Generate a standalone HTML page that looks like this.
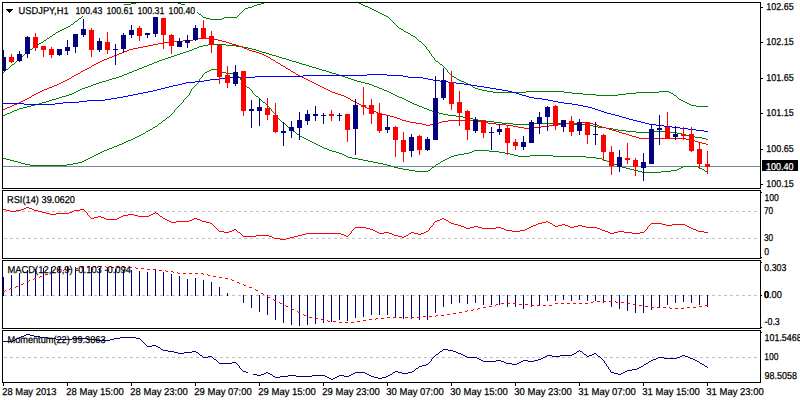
<!DOCTYPE html><html><head><meta charset="utf-8"><title>USDJPY,H1</title><style>html,body{margin:0;padding:0;background:#fff;width:800px;height:400px;overflow:hidden;font-family:"Liberation Sans",sans-serif}</style></head><body><svg width="800" height="400" viewBox="0 0 800 400" shape-rendering="crispEdges" style="position:absolute;left:0;top:0">
<rect x="0" y="0" width="800" height="400" fill="#fff"/>
<defs><clipPath id="cm"><rect x="3" y="3" width="757" height="185"/></clipPath></defs>
<g clip-path="url(#cm)">
<rect x="3" y="166" width="757" height="1" fill="#778899"/>
<path d="M268 0h1v1h-1zM266 1h2v1h-2zM136 2h42v1h-42zM264 2h2v1h-2zM131 3h5v1h-5zM178 3h3v1h-3zM261 3h3v1h-3zM124 4h7v1h-7zM181 4h4v1h-4zM257 4h4v1h-4zM118 5h6v1h-6zM185 5h2v1h-2zM254 5h3v1h-3zM113 6h5v1h-5zM187 6h2v1h-2zM252 6h2v1h-2zM108 7h5v1h-5zM189 7h2v1h-2zM248 7h4v1h-4zM102 8h6v1h-6zM191 8h2v1h-2zM245 8h3v1h-3zM98 9h4v1h-4zM193 9h1v1h-1zM244 9h1v1h-1zM95 10h3v1h-3zM194 10h1v1h-1zM243 10h1v1h-1zM93 11h2v1h-2zM195 11h2v1h-2zM242 11h1v1h-1zM90 12h3v1h-3zM197 12h1v1h-1zM241 12h1v1h-1zM87 13h3v1h-3zM198 13h1v1h-1zM240 13h1v1h-1zM85 14h2v1h-2zM199 14h2v1h-2zM239 14h1v1h-1zM83 15h2v1h-2zM201 15h1v1h-1zM238 15h1v1h-1zM82 16h1v1h-1zM202 16h1v1h-1zM237 16h1v1h-1zM81 17h1v1h-1zM203 17h3v1h-3zM224 17h13v1h-13zM79 18h2v1h-2zM206 18h4v1h-4zM222 18h2v1h-2zM78 19h1v1h-1zM210 19h12v1h-12zM77 20h1v1h-1zM75 21h2v1h-2zM74 22h1v1h-1zM73 23h1v1h-1zM71 24h2v1h-2zM70 25h1v1h-1zM68 26h2v1h-2zM66 27h2v1h-2zM64 28h2v1h-2zM62 29h2v1h-2zM60 30h2v1h-2zM58 31h2v1h-2zM56 32h2v1h-2zM55 33h1v1h-1zM53 34h2v1h-2zM52 35h1v1h-1zM50 36h2v1h-2zM49 37h1v1h-1zM47 38h2v1h-2zM46 39h1v1h-1zM44 40h2v1h-2zM43 41h1v1h-1zM41 42h2v1h-2zM39 43h2v1h-2zM38 44h1v1h-1zM36 45h2v1h-2zM35 46h1v1h-1zM33 47h2v1h-2zM32 48h1v1h-1zM30 49h2v1h-2zM29 50h1v1h-1zM28 51h1v1h-1zM27 52h1v1h-1zM25 53h2v1h-2zM24 54h1v1h-1zM23 55h1v1h-1zM22 56h1v1h-1zM21 57h1v1h-1zM19 58h2v1h-2zM18 59h1v1h-1zM17 60h1v1h-1zM16 61h1v1h-1zM15 62h1v1h-1zM14 63h1v1h-1zM12 64h2v1h-2zM11 65h1v1h-1zM10 66h1v1h-1zM9 67h1v1h-1zM8 68h1v1h-1zM6 69h2v1h-2zM5 70h1v1h-1zM4 71h1v1h-1zM3 72h1v1h-1z" fill="#008000"/>
<path d="M354 0h1v1h-1zM355 1h2v1h-2zM357 2h2v1h-2zM359 3h2v1h-2zM361 4h2v1h-2zM363 5h2v1h-2zM365 6h3v1h-3zM368 7h2v1h-2zM370 8h2v1h-2zM372 9h2v1h-2zM374 10h2v1h-2zM376 11h2v1h-2zM378 12h2v1h-2zM380 13h2v1h-2zM382 14h2v1h-2zM384 15h2v1h-2zM386 16h2v1h-2zM388 17h1v1h-1zM389 18h1v1h-1zM390 19h1v1h-1zM391 20h1v1h-1zM392 21h1v1h-1zM393 22h1v1h-1zM394 23h1v1h-1zM395 24h1v1h-1zM396 25h1v1h-1zM397 26h1v1h-1zM398 27h1v1h-1zM399 28h2v1h-2zM401 29h2v1h-2zM403 30h1v1h-1zM404 31h2v1h-2zM406 32h2v1h-2zM408 33h2v1h-2zM410 34h1v1h-1zM411 35h2v1h-2zM413 36h2v1h-2zM415 37h1v1h-1zM416 38h1v1h-1zM417 39h1v1h-1zM418 40h1v1h-1zM419 41h2v1h-2zM421 42h1v1h-1zM422 43h1v1h-1zM423 44h1v1h-1zM424 45h1v1h-1zM425 46h1v1h-1zM426 47h1v1h-1zM426 48h1v1h-1zM427 49h1v1h-1zM428 50h1v1h-1zM429 51h1v1h-1zM429 52h1v1h-1zM430 53h1v1h-1zM431 54h1v1h-1zM431 55h1v1h-1zM432 56h1v1h-1zM433 57h1v1h-1zM434 58h1v1h-1zM434 59h1v1h-1zM435 60h1v1h-1zM436 61h2v1h-2zM438 62h1v1h-1zM439 63h1v1h-1zM440 64h2v1h-2zM442 65h1v1h-1zM443 66h1v1h-1zM444 67h1v1h-1zM445 68h1v1h-1zM446 69h1v1h-1zM447 70h1v1h-1zM447 71h1v1h-1zM448 72h1v1h-1zM449 73h1v1h-1zM450 74h1v1h-1zM451 75h1v1h-1zM452 76h2v1h-2zM454 77h2v1h-2zM456 78h1v1h-1zM457 79h2v1h-2zM459 80h2v1h-2zM461 81h3v1h-3zM464 82h2v1h-2zM466 83h2v1h-2zM468 84h2v1h-2zM470 85h2v1h-2zM472 86h1v1h-1zM473 87h2v1h-2zM475 88h3v1h-3zM478 89h4v1h-4zM482 90h5v1h-5zM487 91h6v1h-6zM526 91h38v1h-38zM659 91h10v1h-10zM493 92h33v1h-33zM564 92h8v1h-8zM636 92h23v1h-23zM669 92h2v1h-2zM572 93h11v1h-11zM626 93h10v1h-10zM671 93h2v1h-2zM583 94h13v1h-13zM618 94h8v1h-8zM673 94h1v1h-1zM596 95h22v1h-22zM674 95h2v1h-2zM676 96h1v1h-1zM677 97h1v1h-1zM678 98h1v1h-1zM679 99h2v1h-2zM681 100h2v1h-2zM683 101h2v1h-2zM685 102h2v1h-2zM687 103h2v1h-2zM689 104h2v1h-2zM691 105h5v1h-5zM696 106h12v1h-12z" fill="#008000"/>
<path d="M208 44h18v1h-18zM203 45h5v1h-5zM226 45h10v1h-10zM199 46h4v1h-4zM236 46h7v1h-7zM197 47h2v1h-2zM243 47h5v1h-5zM194 48h3v1h-3zM248 48h4v1h-4zM192 49h2v1h-2zM252 49h4v1h-4zM189 50h3v1h-3zM256 50h3v1h-3zM186 51h3v1h-3zM259 51h3v1h-3zM183 52h3v1h-3zM262 52h4v1h-4zM180 53h3v1h-3zM266 53h3v1h-3zM177 54h3v1h-3zM269 54h3v1h-3zM174 55h3v1h-3zM272 55h4v1h-4zM171 56h3v1h-3zM276 56h3v1h-3zM168 57h3v1h-3zM279 57h3v1h-3zM165 58h3v1h-3zM282 58h4v1h-4zM162 59h3v1h-3zM286 59h3v1h-3zM159 60h3v1h-3zM289 60h3v1h-3zM157 61h2v1h-2zM292 61h4v1h-4zM154 62h3v1h-3zM296 62h3v1h-3zM152 63h2v1h-2zM299 63h3v1h-3zM149 64h3v1h-3zM302 64h4v1h-4zM147 65h2v1h-2zM306 65h3v1h-3zM144 66h3v1h-3zM309 66h3v1h-3zM142 67h2v1h-2zM312 67h4v1h-4zM139 68h3v1h-3zM316 68h3v1h-3zM137 69h2v1h-2zM319 69h3v1h-3zM134 70h3v1h-3zM322 70h4v1h-4zM132 71h2v1h-2zM326 71h3v1h-3zM129 72h3v1h-3zM329 72h3v1h-3zM127 73h2v1h-2zM332 73h4v1h-4zM124 74h3v1h-3zM336 74h3v1h-3zM122 75h2v1h-2zM339 75h3v1h-3zM119 76h3v1h-3zM342 76h3v1h-3zM116 77h3v1h-3zM345 77h3v1h-3zM112 78h4v1h-4zM348 78h3v1h-3zM109 79h3v1h-3zM351 79h3v1h-3zM106 80h3v1h-3zM354 80h3v1h-3zM102 81h4v1h-4zM357 81h4v1h-4zM99 82h3v1h-3zM361 82h4v1h-4zM96 83h3v1h-3zM365 83h4v1h-4zM93 84h3v1h-3zM369 84h3v1h-3zM91 85h2v1h-2zM372 85h2v1h-2zM88 86h3v1h-3zM374 86h3v1h-3zM85 87h3v1h-3zM377 87h2v1h-2zM82 88h3v1h-3zM379 88h3v1h-3zM80 89h2v1h-2zM382 89h2v1h-2zM78 90h2v1h-2zM384 90h3v1h-3zM76 91h2v1h-2zM387 91h2v1h-2zM74 92h2v1h-2zM389 92h2v1h-2zM72 93h2v1h-2zM391 93h2v1h-2zM69 94h3v1h-3zM393 94h2v1h-2zM66 95h3v1h-3zM395 95h2v1h-2zM62 96h4v1h-4zM397 96h2v1h-2zM59 97h3v1h-3zM399 97h3v1h-3zM56 98h3v1h-3zM402 98h2v1h-2zM52 99h4v1h-4zM404 99h2v1h-2zM49 100h3v1h-3zM406 100h2v1h-2zM46 101h3v1h-3zM408 101h2v1h-2zM42 102h4v1h-4zM410 102h2v1h-2zM39 103h3v1h-3zM412 103h2v1h-2zM35 104h4v1h-4zM414 104h3v1h-3zM31 105h4v1h-4zM417 105h2v1h-2zM27 106h4v1h-4zM419 106h3v1h-3zM23 107h4v1h-4zM422 107h2v1h-2zM19 108h4v1h-4zM424 108h3v1h-3zM17 109h2v1h-2zM427 109h2v1h-2zM14 110h3v1h-3zM429 110h3v1h-3zM12 111h2v1h-2zM432 111h4v1h-4zM10 112h2v1h-2zM436 112h3v1h-3zM7 113h3v1h-3zM439 113h4v1h-4zM5 114h2v1h-2zM443 114h5v1h-5zM3 115h2v1h-2zM448 115h8v1h-8zM456 116h7v1h-7zM463 117h5v1h-5zM468 118h5v1h-5zM473 119h5v1h-5zM478 120h8v1h-8zM486 121h8v1h-8zM494 122h8v1h-8zM502 123h11v1h-11zM530 123h41v1h-41zM513 124h17v1h-17zM571 124h15v1h-15zM586 125h7v1h-7zM593 126h5v1h-5zM598 127h8v1h-8zM606 128h7v1h-7zM613 129h5v1h-5zM618 130h8v1h-8zM626 131h10v1h-10zM654 131h15v1h-15zM636 132h18v1h-18zM669 132h8v1h-8zM677 133h5v1h-5zM682 134h4v1h-4zM686 135h3v1h-3zM689 136h6v1h-6zM695 137h7v1h-7zM702 138h4v1h-4zM706 139h2v1h-2z" fill="#008000"/>
<path d="M211 69h7v1h-7zM209 70h2v1h-2zM218 70h2v1h-2zM207 71h2v1h-2zM220 71h2v1h-2zM205 72h2v1h-2zM222 72h4v1h-4zM204 73h1v1h-1zM226 73h10v1h-10zM203 74h1v1h-1zM236 74h1v1h-1zM202 75h1v1h-1zM237 75h1v1h-1zM202 76h1v1h-1zM238 76h1v1h-1zM201 77h1v1h-1zM239 77h1v1h-1zM200 78h1v1h-1zM240 78h1v1h-1zM199 79h1v1h-1zM240 79h1v1h-1zM199 80h1v1h-1zM241 80h1v1h-1zM198 81h1v1h-1zM242 81h1v1h-1zM198 82h1v1h-1zM243 82h1v1h-1zM197 83h1v1h-1zM243 83h1v1h-1zM196 84h1v1h-1zM244 84h1v1h-1zM195 85h1v1h-1zM245 85h1v1h-1zM194 86h1v1h-1zM246 86h1v1h-1zM193 87h1v1h-1zM247 87h2v1h-2zM192 88h1v1h-1zM249 88h1v1h-1zM191 89h1v1h-1zM250 89h1v1h-1zM191 90h1v1h-1zM251 90h1v1h-1zM190 91h1v1h-1zM252 91h1v1h-1zM190 92h1v1h-1zM252 92h1v1h-1zM189 93h1v1h-1zM253 93h1v1h-1zM189 94h1v1h-1zM254 94h1v1h-1zM188 95h1v1h-1zM255 95h1v1h-1zM187 96h1v1h-1zM256 96h2v1h-2zM186 97h1v1h-1zM258 97h1v1h-1zM185 98h1v1h-1zM259 98h1v1h-1zM184 99h1v1h-1zM260 99h1v1h-1zM183 100h1v1h-1zM261 100h1v1h-1zM183 101h1v1h-1zM262 101h1v1h-1zM182 102h1v1h-1zM263 102h2v1h-2zM181 103h1v1h-1zM265 103h1v1h-1zM180 104h1v1h-1zM266 104h1v1h-1zM179 105h1v1h-1zM267 105h1v1h-1zM178 106h1v1h-1zM268 106h1v1h-1zM177 107h1v1h-1zM269 107h1v1h-1zM176 108h1v1h-1zM270 108h1v1h-1zM175 109h1v1h-1zM271 109h1v1h-1zM174 110h1v1h-1zM271 110h1v1h-1zM174 111h1v1h-1zM272 111h1v1h-1zM173 112h1v1h-1zM273 112h1v1h-1zM172 113h1v1h-1zM274 113h1v1h-1zM171 114h1v1h-1zM275 114h1v1h-1zM170 115h1v1h-1zM276 115h1v1h-1zM169 116h1v1h-1zM277 116h1v1h-1zM167 117h2v1h-2zM277 117h1v1h-1zM166 118h1v1h-1zM278 118h1v1h-1zM165 119h1v1h-1zM279 119h1v1h-1zM163 120h2v1h-2zM280 120h1v1h-1zM162 121h1v1h-1zM281 121h1v1h-1zM161 122h1v1h-1zM282 122h2v1h-2zM159 123h2v1h-2zM284 123h1v1h-1zM158 124h1v1h-1zM285 124h1v1h-1zM157 125h1v1h-1zM286 125h1v1h-1zM155 126h2v1h-2zM287 126h1v1h-1zM153 127h2v1h-2zM288 127h2v1h-2zM152 128h1v1h-1zM290 128h1v1h-1zM150 129h2v1h-2zM291 129h1v1h-1zM148 130h2v1h-2zM292 130h1v1h-1zM146 131h2v1h-2zM293 131h2v1h-2zM145 132h1v1h-1zM295 132h1v1h-1zM143 133h2v1h-2zM296 133h1v1h-1zM141 134h2v1h-2zM297 134h2v1h-2zM139 135h2v1h-2zM299 135h1v1h-1zM137 136h2v1h-2zM300 136h2v1h-2zM135 137h2v1h-2zM302 137h2v1h-2zM133 138h2v1h-2zM304 138h2v1h-2zM131 139h2v1h-2zM306 139h2v1h-2zM128 140h3v1h-3zM308 140h2v1h-2zM126 141h2v1h-2zM310 141h2v1h-2zM124 142h2v1h-2zM312 142h2v1h-2zM122 143h2v1h-2zM314 143h2v1h-2zM119 144h3v1h-3zM316 144h2v1h-2zM117 145h2v1h-2zM318 145h2v1h-2zM114 146h3v1h-3zM320 146h2v1h-2zM112 147h2v1h-2zM322 147h2v1h-2zM109 148h3v1h-3zM324 148h3v1h-3zM107 149h2v1h-2zM327 149h2v1h-2zM104 150h3v1h-3zM329 150h3v1h-3zM474 150h15v1h-15zM102 151h2v1h-2zM332 151h4v1h-4zM472 151h2v1h-2zM489 151h10v1h-10zM100 152h2v1h-2zM336 152h3v1h-3zM469 152h3v1h-3zM499 152h6v1h-6zM98 153h2v1h-2zM339 153h3v1h-3zM464 153h5v1h-5zM505 153h5v1h-5zM96 154h2v1h-2zM342 154h2v1h-2zM458 154h6v1h-6zM510 154h4v1h-4zM94 155h2v1h-2zM344 155h2v1h-2zM454 155h4v1h-4zM514 155h4v1h-4zM530 155h23v1h-23zM92 156h2v1h-2zM346 156h2v1h-2zM451 156h3v1h-3zM518 156h12v1h-12zM553 156h33v1h-33zM90 157h2v1h-2zM348 157h4v1h-4zM449 157h2v1h-2zM586 157h10v1h-10zM3 158h3v1h-3zM88 158h2v1h-2zM352 158h6v1h-6zM447 158h2v1h-2zM596 158h6v1h-6zM6 159h4v1h-4zM86 159h2v1h-2zM358 159h5v1h-5zM445 159h2v1h-2zM602 159h2v1h-2zM10 160h4v1h-4zM84 160h2v1h-2zM363 160h5v1h-5zM443 160h2v1h-2zM604 160h3v1h-3zM14 161h4v1h-4zM82 161h2v1h-2zM368 161h5v1h-5zM441 161h2v1h-2zM607 161h2v1h-2zM18 162h3v1h-3zM78 162h4v1h-4zM373 162h5v1h-5zM440 162h1v1h-1zM609 162h3v1h-3zM21 163h4v1h-4zM73 163h5v1h-5zM378 163h5v1h-5zM438 163h2v1h-2zM612 163h2v1h-2zM25 164h5v1h-5zM67 164h6v1h-6zM383 164h4v1h-4zM436 164h2v1h-2zM614 164h3v1h-3zM30 165h37v1h-37zM387 165h4v1h-4zM435 165h1v1h-1zM617 165h2v1h-2zM391 166h3v1h-3zM434 166h1v1h-1zM619 166h3v1h-3zM683 166h15v1h-15zM394 167h4v1h-4zM432 167h2v1h-2zM622 167h4v1h-4zM681 167h2v1h-2zM698 167h2v1h-2zM398 168h5v1h-5zM431 168h1v1h-1zM626 168h4v1h-4zM679 168h2v1h-2zM700 168h2v1h-2zM403 169h6v1h-6zM430 169h1v1h-1zM630 169h4v1h-4zM677 169h2v1h-2zM702 169h2v1h-2zM409 170h6v1h-6zM428 170h2v1h-2zM634 170h4v1h-4zM671 170h6v1h-6zM704 170h1v1h-1zM415 171h13v1h-13zM638 171h4v1h-4zM661 171h10v1h-10zM705 171h2v1h-2zM642 172h19v1h-19zM707 172h1v1h-1z" fill="#008000"/>
<path d="M198 38h15v1h-15zM193 39h5v1h-5zM213 39h5v1h-5zM183 40h10v1h-10zM218 40h4v1h-4zM172 41h11v1h-11zM222 41h4v1h-4zM164 42h8v1h-8zM226 42h3v1h-3zM158 43h6v1h-6zM229 43h3v1h-3zM153 44h5v1h-5zM232 44h4v1h-4zM148 45h5v1h-5zM236 45h3v1h-3zM143 46h5v1h-5zM239 46h3v1h-3zM138 47h5v1h-5zM242 47h2v1h-2zM133 48h5v1h-5zM244 48h3v1h-3zM129 49h4v1h-4zM247 49h2v1h-2zM127 50h2v1h-2zM249 50h3v1h-3zM124 51h3v1h-3zM252 51h4v1h-4zM122 52h2v1h-2zM256 52h3v1h-3zM119 53h3v1h-3zM259 53h3v1h-3zM117 54h2v1h-2zM262 54h2v1h-2zM114 55h3v1h-3zM264 55h2v1h-2zM112 56h2v1h-2zM266 56h2v1h-2zM109 57h3v1h-3zM268 57h2v1h-2zM107 58h2v1h-2zM270 58h1v1h-1zM104 59h3v1h-3zM271 59h2v1h-2zM102 60h2v1h-2zM273 60h2v1h-2zM100 61h2v1h-2zM275 61h1v1h-1zM98 62h2v1h-2zM276 62h2v1h-2zM96 63h2v1h-2zM278 63h2v1h-2zM94 64h2v1h-2zM280 64h1v1h-1zM92 65h2v1h-2zM281 65h2v1h-2zM91 66h1v1h-1zM283 66h2v1h-2zM89 67h2v1h-2zM285 67h1v1h-1zM87 68h2v1h-2zM286 68h2v1h-2zM85 69h2v1h-2zM288 69h2v1h-2zM83 70h2v1h-2zM290 70h1v1h-1zM81 71h2v1h-2zM291 71h2v1h-2zM80 72h1v1h-1zM293 72h2v1h-2zM78 73h2v1h-2zM295 73h1v1h-1zM76 74h2v1h-2zM296 74h2v1h-2zM74 75h2v1h-2zM298 75h2v1h-2zM72 76h2v1h-2zM300 76h2v1h-2zM71 77h1v1h-1zM302 77h2v1h-2zM69 78h2v1h-2zM304 78h2v1h-2zM67 79h2v1h-2zM306 79h2v1h-2zM65 80h2v1h-2zM308 80h2v1h-2zM63 81h2v1h-2zM310 81h2v1h-2zM61 82h2v1h-2zM312 82h2v1h-2zM59 83h2v1h-2zM314 83h2v1h-2zM57 84h2v1h-2zM316 84h2v1h-2zM54 85h3v1h-3zM318 85h2v1h-2zM52 86h2v1h-2zM320 86h2v1h-2zM49 87h3v1h-3zM322 87h2v1h-2zM47 88h2v1h-2zM324 88h2v1h-2zM44 89h3v1h-3zM326 89h2v1h-2zM42 90h2v1h-2zM328 90h2v1h-2zM40 91h2v1h-2zM330 91h2v1h-2zM38 92h2v1h-2zM332 92h3v1h-3zM36 93h2v1h-2zM335 93h3v1h-3zM34 94h2v1h-2zM338 94h3v1h-3zM32 95h2v1h-2zM341 95h3v1h-3zM31 96h1v1h-1zM344 96h2v1h-2zM29 97h2v1h-2zM346 97h2v1h-2zM27 98h2v1h-2zM348 98h2v1h-2zM25 99h2v1h-2zM350 99h1v1h-1zM23 100h2v1h-2zM351 100h2v1h-2zM21 101h2v1h-2zM353 101h2v1h-2zM19 102h2v1h-2zM355 102h2v1h-2zM17 103h2v1h-2zM357 103h2v1h-2zM14 104h3v1h-3zM359 104h2v1h-2zM12 105h2v1h-2zM361 105h2v1h-2zM10 106h2v1h-2zM363 106h2v1h-2zM7 107h3v1h-3zM365 107h2v1h-2zM5 108h2v1h-2zM367 108h2v1h-2zM3 109h2v1h-2zM369 109h2v1h-2zM371 110h2v1h-2zM373 111h3v1h-3zM376 112h2v1h-2zM378 113h4v1h-4zM382 114h4v1h-4zM386 115h4v1h-4zM390 116h4v1h-4zM394 117h3v1h-3zM397 118h3v1h-3zM400 119h2v1h-2zM402 120h4v1h-4zM448 120h28v1h-28zM406 121h4v1h-4zM442 121h6v1h-6zM476 121h7v1h-7zM410 122h6v1h-6zM439 122h3v1h-3zM483 122h5v1h-5zM581 122h7v1h-7zM416 123h6v1h-6zM435 123h4v1h-4zM488 123h8v1h-8zM562 123h19v1h-19zM588 123h5v1h-5zM422 124h4v1h-4zM430 124h5v1h-5zM496 124h10v1h-10zM556 124h6v1h-6zM593 124h4v1h-4zM426 125h4v1h-4zM506 125h7v1h-7zM549 125h7v1h-7zM597 125h2v1h-2zM513 126h5v1h-5zM541 126h8v1h-8zM599 126h3v1h-3zM518 127h6v1h-6zM534 127h7v1h-7zM602 127h4v1h-4zM524 128h10v1h-10zM606 128h3v1h-3zM609 129h3v1h-3zM612 130h4v1h-4zM616 131h3v1h-3zM619 132h3v1h-3zM622 133h4v1h-4zM626 134h3v1h-3zM629 135h3v1h-3zM632 136h4v1h-4zM636 137h3v1h-3zM639 138h47v1h-47zM686 139h6v1h-6zM692 140h3v1h-3zM695 141h3v1h-3zM698 142h4v1h-4zM702 143h4v1h-4zM706 144h2v1h-2z" fill="#ff0000"/>
<path d="M367 74h20v1h-20zM303 75h64v1h-64zM387 75h16v1h-16zM255 76h48v1h-48zM403 76h5v1h-5zM229 77h26v1h-26zM408 77h15v1h-15zM219 78h10v1h-10zM423 78h5v1h-5zM210 79h9v1h-9zM428 79h5v1h-5zM204 80h6v1h-6zM433 80h7v1h-7zM195 81h9v1h-9zM440 81h8v1h-8zM186 82h9v1h-9zM448 82h8v1h-8zM182 83h4v1h-4zM456 83h8v1h-8zM178 84h4v1h-4zM464 84h7v1h-7zM173 85h5v1h-5zM471 85h6v1h-6zM169 86h4v1h-4zM477 86h7v1h-7zM165 87h4v1h-4zM484 87h6v1h-6zM161 88h4v1h-4zM490 88h6v1h-6zM157 89h4v1h-4zM496 89h6v1h-6zM153 90h4v1h-4zM502 90h6v1h-6zM148 91h5v1h-5zM508 91h4v1h-4zM143 92h5v1h-5zM512 92h4v1h-4zM138 93h5v1h-5zM516 93h3v1h-3zM133 94h5v1h-5zM519 94h3v1h-3zM128 95h5v1h-5zM522 95h4v1h-4zM123 96h5v1h-5zM526 96h3v1h-3zM117 97h6v1h-6zM529 97h5v1h-5zM111 98h6v1h-6zM534 98h8v1h-8zM105 99h6v1h-6zM542 99h6v1h-6zM87 100h18v1h-18zM548 100h5v1h-5zM79 101h8v1h-8zM553 101h5v1h-5zM63 102h16v1h-16zM558 102h6v1h-6zM3 103h21v1h-21zM55 103h8v1h-8zM564 103h8v1h-8zM24 104h31v1h-31zM572 104h6v1h-6zM578 105h5v1h-5zM583 106h5v1h-5zM588 107h4v1h-4zM592 108h3v1h-3zM595 109h3v1h-3zM598 110h3v1h-3zM601 111h3v1h-3zM604 112h3v1h-3zM607 113h4v1h-4zM611 114h4v1h-4zM615 115h4v1h-4zM619 116h3v1h-3zM622 117h4v1h-4zM626 118h3v1h-3zM629 119h4v1h-4zM633 120h4v1h-4zM637 121h4v1h-4zM641 122h4v1h-4zM645 123h4v1h-4zM649 124h7v1h-7zM656 125h8v1h-8zM664 126h8v1h-8zM672 127h8v1h-8zM680 128h8v1h-8zM688 129h8v1h-8zM696 130h8v1h-8zM704 131h4v1h-4z" fill="#0000ff"/>
<rect x="5" y="5" width="192" height="11" fill="#fff"/>
<rect x="3" y="50" width="1" height="21" fill="#000080"/>
<rect x="1" y="57" width="5" height="14" fill="#000080"/>
<rect x="11" y="54" width="1" height="9" fill="#ff0000"/>
<rect x="9" y="57" width="5" height="5" fill="#ff0000"/>
<rect x="19" y="51" width="1" height="11" fill="#000080"/>
<rect x="17" y="54" width="5" height="7" fill="#000080"/>
<rect x="27" y="36" width="1" height="22" fill="#000080"/>
<rect x="25" y="37" width="5" height="17" fill="#000080"/>
<rect x="35" y="33" width="1" height="18" fill="#ff0000"/>
<rect x="33" y="37" width="5" height="11" fill="#ff0000"/>
<rect x="43" y="46" width="1" height="11" fill="#ff0000"/>
<rect x="41" y="46" width="5" height="4" fill="#ff0000"/>
<rect x="51" y="47" width="1" height="11" fill="#ff0000"/>
<rect x="49" y="49" width="5" height="6" fill="#ff0000"/>
<rect x="59" y="49" width="1" height="7" fill="#000080"/>
<rect x="57" y="49" width="5" height="6" fill="#000080"/>
<rect x="67" y="40" width="1" height="15" fill="#000080"/>
<rect x="65" y="47" width="5" height="4" fill="#000080"/>
<rect x="75" y="34" width="1" height="19" fill="#000080"/>
<rect x="73" y="34" width="5" height="13" fill="#000080"/>
<rect x="83" y="19" width="1" height="18" fill="#000080"/>
<rect x="81" y="29" width="5" height="6" fill="#000080"/>
<rect x="91" y="28" width="1" height="29" fill="#ff0000"/>
<rect x="89" y="30" width="5" height="20" fill="#ff0000"/>
<rect x="99" y="38" width="1" height="14" fill="#000080"/>
<rect x="97" y="41" width="5" height="9" fill="#000080"/>
<rect x="107" y="32" width="1" height="22" fill="#ff0000"/>
<rect x="105" y="42" width="5" height="8" fill="#ff0000"/>
<rect x="115" y="44" width="1" height="21" fill="#000080"/>
<rect x="113" y="49" width="5" height="1" fill="#000080"/>
<rect x="123" y="33" width="1" height="20" fill="#000080"/>
<rect x="121" y="35" width="5" height="14" fill="#000080"/>
<rect x="131" y="25" width="1" height="13" fill="#000080"/>
<rect x="129" y="30" width="5" height="5" fill="#000080"/>
<rect x="139" y="26" width="1" height="15" fill="#ff0000"/>
<rect x="137" y="28" width="5" height="8" fill="#ff0000"/>
<rect x="147" y="33" width="1" height="5" fill="#000080"/>
<rect x="145" y="33" width="5" height="2" fill="#000080"/>
<rect x="155" y="17" width="1" height="20" fill="#000080"/>
<rect x="153" y="17" width="5" height="17" fill="#000080"/>
<rect x="163" y="18" width="1" height="31" fill="#ff0000"/>
<rect x="161" y="18" width="5" height="17" fill="#ff0000"/>
<rect x="171" y="34" width="1" height="20" fill="#ff0000"/>
<rect x="169" y="35" width="5" height="11" fill="#ff0000"/>
<rect x="179" y="38" width="1" height="9" fill="#000080"/>
<rect x="177" y="41" width="5" height="6" fill="#000080"/>
<rect x="187" y="35" width="1" height="13" fill="#000080"/>
<rect x="185" y="40" width="5" height="3" fill="#000080"/>
<rect x="195" y="25" width="1" height="16" fill="#000080"/>
<rect x="193" y="28" width="5" height="12" fill="#000080"/>
<rect x="203" y="20" width="1" height="18" fill="#ff0000"/>
<rect x="201" y="28" width="5" height="10" fill="#ff0000"/>
<rect x="211" y="31" width="1" height="22" fill="#ff0000"/>
<rect x="209" y="36" width="5" height="9" fill="#ff0000"/>
<rect x="219" y="45" width="1" height="39" fill="#ff0000"/>
<rect x="217" y="45" width="5" height="32" fill="#ff0000"/>
<rect x="227" y="66" width="1" height="22" fill="#ff0000"/>
<rect x="225" y="75" width="5" height="8" fill="#ff0000"/>
<rect x="235" y="65" width="1" height="21" fill="#000080"/>
<rect x="233" y="72" width="5" height="12" fill="#000080"/>
<rect x="243" y="71" width="1" height="45" fill="#ff0000"/>
<rect x="241" y="71" width="5" height="40" fill="#ff0000"/>
<rect x="251" y="100" width="1" height="28" fill="#000080"/>
<rect x="249" y="109" width="5" height="2" fill="#000080"/>
<rect x="259" y="99" width="1" height="27" fill="#000080"/>
<rect x="257" y="107" width="5" height="4" fill="#000080"/>
<rect x="267" y="98" width="1" height="22" fill="#ff0000"/>
<rect x="265" y="108" width="5" height="7" fill="#ff0000"/>
<rect x="275" y="103" width="1" height="30" fill="#ff0000"/>
<rect x="273" y="115" width="5" height="17" fill="#ff0000"/>
<rect x="283" y="122" width="1" height="24" fill="#000080"/>
<rect x="281" y="131" width="5" height="2" fill="#000080"/>
<rect x="291" y="121" width="1" height="17" fill="#000080"/>
<rect x="289" y="127" width="5" height="4" fill="#000080"/>
<rect x="299" y="112" width="1" height="28" fill="#000080"/>
<rect x="297" y="120" width="5" height="8" fill="#000080"/>
<rect x="307" y="110" width="1" height="15" fill="#000080"/>
<rect x="305" y="114" width="5" height="7" fill="#000080"/>
<rect x="315" y="106" width="1" height="15" fill="#000080"/>
<rect x="313" y="114" width="5" height="2" fill="#000080"/>
<rect x="323" y="113" width="1" height="11" fill="#000080"/>
<rect x="321" y="115" width="5" height="1" fill="#000080"/>
<rect x="331" y="110" width="1" height="11" fill="#ff0000"/>
<rect x="329" y="114" width="5" height="2" fill="#ff0000"/>
<rect x="339" y="113" width="1" height="8" fill="#000080"/>
<rect x="337" y="115" width="5" height="1" fill="#000080"/>
<rect x="347" y="114" width="1" height="28" fill="#ff0000"/>
<rect x="345" y="114" width="5" height="16" fill="#ff0000"/>
<rect x="355" y="99" width="1" height="56" fill="#000080"/>
<rect x="353" y="105" width="5" height="24" fill="#000080"/>
<rect x="363" y="87" width="1" height="28" fill="#ff0000"/>
<rect x="361" y="105" width="5" height="2" fill="#ff0000"/>
<rect x="371" y="99" width="1" height="25" fill="#ff0000"/>
<rect x="369" y="105" width="5" height="9" fill="#ff0000"/>
<rect x="379" y="103" width="1" height="30" fill="#ff0000"/>
<rect x="377" y="113" width="5" height="18" fill="#ff0000"/>
<rect x="387" y="116" width="1" height="17" fill="#000080"/>
<rect x="385" y="127" width="5" height="3" fill="#000080"/>
<rect x="395" y="126" width="1" height="31" fill="#ff0000"/>
<rect x="393" y="127" width="5" height="13" fill="#ff0000"/>
<rect x="403" y="132" width="1" height="30" fill="#ff0000"/>
<rect x="401" y="140" width="5" height="12" fill="#ff0000"/>
<rect x="411" y="134" width="1" height="23" fill="#000080"/>
<rect x="409" y="137" width="5" height="14" fill="#000080"/>
<rect x="419" y="135" width="1" height="20" fill="#ff0000"/>
<rect x="417" y="136" width="5" height="14" fill="#ff0000"/>
<rect x="427" y="137" width="1" height="14" fill="#000080"/>
<rect x="425" y="139" width="5" height="11" fill="#000080"/>
<rect x="435" y="76" width="1" height="64" fill="#000080"/>
<rect x="433" y="98" width="5" height="42" fill="#000080"/>
<rect x="443" y="68" width="1" height="32" fill="#000080"/>
<rect x="441" y="80" width="5" height="18" fill="#000080"/>
<rect x="451" y="71" width="1" height="39" fill="#ff0000"/>
<rect x="449" y="82" width="5" height="22" fill="#ff0000"/>
<rect x="459" y="91" width="1" height="35" fill="#ff0000"/>
<rect x="457" y="102" width="5" height="11" fill="#ff0000"/>
<rect x="467" y="110" width="1" height="30" fill="#ff0000"/>
<rect x="465" y="111" width="5" height="19" fill="#ff0000"/>
<rect x="475" y="117" width="1" height="16" fill="#000080"/>
<rect x="473" y="120" width="5" height="11" fill="#000080"/>
<rect x="483" y="120" width="1" height="18" fill="#ff0000"/>
<rect x="481" y="120" width="5" height="13" fill="#ff0000"/>
<rect x="491" y="127" width="1" height="23" fill="#000080"/>
<rect x="489" y="132" width="5" height="1" fill="#000080"/>
<rect x="499" y="124" width="1" height="11" fill="#000080"/>
<rect x="497" y="129" width="5" height="3" fill="#000080"/>
<rect x="507" y="126" width="1" height="29" fill="#ff0000"/>
<rect x="505" y="128" width="5" height="15" fill="#ff0000"/>
<rect x="515" y="139" width="1" height="11" fill="#ff0000"/>
<rect x="513" y="142" width="5" height="4" fill="#ff0000"/>
<rect x="523" y="136" width="1" height="14" fill="#000080"/>
<rect x="521" y="142" width="5" height="5" fill="#000080"/>
<rect x="531" y="120" width="1" height="23" fill="#000080"/>
<rect x="529" y="122" width="5" height="21" fill="#000080"/>
<rect x="539" y="112" width="1" height="22" fill="#000080"/>
<rect x="537" y="117" width="5" height="7" fill="#000080"/>
<rect x="547" y="106" width="1" height="25" fill="#000080"/>
<rect x="545" y="107" width="5" height="10" fill="#000080"/>
<rect x="555" y="105" width="1" height="25" fill="#ff0000"/>
<rect x="553" y="106" width="5" height="20" fill="#ff0000"/>
<rect x="563" y="120" width="1" height="12" fill="#000080"/>
<rect x="561" y="120" width="5" height="7" fill="#000080"/>
<rect x="571" y="116" width="1" height="20" fill="#ff0000"/>
<rect x="569" y="121" width="5" height="11" fill="#ff0000"/>
<rect x="579" y="119" width="1" height="16" fill="#000080"/>
<rect x="577" y="122" width="5" height="9" fill="#000080"/>
<rect x="587" y="122" width="1" height="22" fill="#ff0000"/>
<rect x="585" y="122" width="5" height="13" fill="#ff0000"/>
<rect x="595" y="122" width="1" height="23" fill="#000080"/>
<rect x="593" y="134" width="5" height="1" fill="#000080"/>
<rect x="603" y="134" width="1" height="27" fill="#ff0000"/>
<rect x="601" y="135" width="5" height="17" fill="#ff0000"/>
<rect x="611" y="146" width="1" height="29" fill="#ff0000"/>
<rect x="609" y="152" width="5" height="14" fill="#ff0000"/>
<rect x="619" y="150" width="1" height="22" fill="#000080"/>
<rect x="617" y="157" width="5" height="10" fill="#000080"/>
<rect x="627" y="143" width="1" height="21" fill="#ff0000"/>
<rect x="625" y="158" width="5" height="2" fill="#ff0000"/>
<rect x="635" y="158" width="1" height="18" fill="#ff0000"/>
<rect x="633" y="160" width="5" height="7" fill="#ff0000"/>
<rect x="643" y="153" width="1" height="28" fill="#000080"/>
<rect x="641" y="162" width="5" height="6" fill="#000080"/>
<rect x="651" y="125" width="1" height="39" fill="#000080"/>
<rect x="649" y="129" width="5" height="35" fill="#000080"/>
<rect x="659" y="115" width="1" height="30" fill="#000080"/>
<rect x="657" y="128" width="5" height="2" fill="#000080"/>
<rect x="667" y="112" width="1" height="27" fill="#ff0000"/>
<rect x="665" y="127" width="5" height="12" fill="#ff0000"/>
<rect x="675" y="126" width="1" height="14" fill="#000080"/>
<rect x="673" y="134" width="5" height="3" fill="#000080"/>
<rect x="683" y="127" width="1" height="13" fill="#ff0000"/>
<rect x="681" y="134" width="5" height="2" fill="#ff0000"/>
<rect x="691" y="127" width="1" height="25" fill="#ff0000"/>
<rect x="689" y="134" width="5" height="17" fill="#ff0000"/>
<rect x="699" y="142" width="1" height="27" fill="#ff0000"/>
<rect x="697" y="149" width="5" height="15" fill="#ff0000"/>
<rect x="707" y="151" width="1" height="23" fill="#ff0000"/>
<rect x="705" y="164" width="5" height="3" fill="#ff0000"/>
</g>
<line x1="3" y1="211.5" x2="760" y2="211.5" stroke="#c0c0c0" stroke-width="1" stroke-dasharray="3,3" stroke-dashoffset="-1"/>
<line x1="3" y1="238.5" x2="760" y2="238.5" stroke="#c0c0c0" stroke-width="1" stroke-dasharray="3,3" stroke-dashoffset="-1"/>
<line x1="3" y1="295.5" x2="760" y2="295.5" stroke="#c0c0c0" stroke-width="1" stroke-dasharray="3,3" stroke-dashoffset="-1"/>
<line x1="3" y1="357.5" x2="760" y2="357.5" stroke="#c0c0c0" stroke-width="1" stroke-dasharray="3,3" stroke-dashoffset="-1"/>
<path d="M26 207h3v1h-3zM24 208h2v1h-2zM29 208h3v1h-3zM3 209h3v1h-3zM21 209h3v1h-3zM32 209h2v1h-2zM80 209h4v1h-4zM6 210h4v1h-4zM16 210h5v1h-5zM34 210h4v1h-4zM74 210h6v1h-6zM84 210h1v1h-1zM10 211h6v1h-6zM38 211h4v1h-4zM72 211h2v1h-2zM85 211h1v1h-1zM42 212h4v1h-4zM69 212h3v1h-3zM86 212h1v1h-1zM155 212h1v1h-1zM46 213h4v1h-4zM56 213h13v1h-13zM87 213h1v1h-1zM153 213h2v1h-2zM156 213h2v1h-2zM50 214h6v1h-6zM87 214h1v1h-1zM128 214h6v1h-6zM151 214h2v1h-2zM158 214h1v1h-1zM88 215h1v1h-1zM123 215h5v1h-5zM134 215h4v1h-4zM149 215h2v1h-2zM159 215h1v1h-1zM89 216h1v1h-1zM98 216h3v1h-3zM121 216h2v1h-2zM138 216h11v1h-11zM160 216h2v1h-2zM90 217h1v1h-1zM94 217h4v1h-4zM101 217h3v1h-3zM119 217h2v1h-2zM162 217h1v1h-1zM91 218h3v1h-3zM104 218h2v1h-2zM117 218h2v1h-2zM163 218h2v1h-2zM194 218h3v1h-3zM442 218h2v1h-2zM106 219h11v1h-11zM165 219h2v1h-2zM192 219h2v1h-2zM197 219h3v1h-3zM440 219h2v1h-2zM444 219h2v1h-2zM167 220h2v1h-2zM189 220h3v1h-3zM200 220h2v1h-2zM437 220h3v1h-3zM446 220h2v1h-2zM169 221h2v1h-2zM176 221h13v1h-13zM202 221h4v1h-4zM435 221h2v1h-2zM448 221h1v1h-1zM546 221h2v1h-2zM171 222h5v1h-5zM206 222h4v1h-4zM434 222h1v1h-1zM449 222h2v1h-2zM542 222h4v1h-4zM548 222h2v1h-2zM210 223h2v1h-2zM433 223h1v1h-1zM451 223h3v1h-3zM538 223h4v1h-4zM550 223h2v1h-2zM651 223h11v1h-11zM212 224h1v1h-1zM433 224h1v1h-1zM454 224h4v1h-4zM536 224h2v1h-2zM552 224h1v1h-1zM562 224h3v1h-3zM650 224h1v1h-1zM662 224h4v1h-4zM672 224h13v1h-13zM213 225h1v1h-1zM432 225h1v1h-1zM458 225h3v1h-3zM533 225h3v1h-3zM553 225h2v1h-2zM558 225h4v1h-4zM565 225h3v1h-3zM578 225h4v1h-4zM649 225h1v1h-1zM666 225h6v1h-6zM685 225h2v1h-2zM214 226h1v1h-1zM431 226h1v1h-1zM461 226h3v1h-3zM474 226h4v1h-4zM531 226h2v1h-2zM555 226h3v1h-3zM568 226h2v1h-2zM574 226h4v1h-4zM582 226h4v1h-4zM648 226h1v1h-1zM687 226h2v1h-2zM215 227h1v1h-1zM355 227h11v1h-11zM430 227h1v1h-1zM464 227h2v1h-2zM470 227h4v1h-4zM478 227h4v1h-4zM496 227h5v1h-5zM529 227h2v1h-2zM570 227h4v1h-4zM586 227h11v1h-11zM647 227h1v1h-1zM689 227h2v1h-2zM216 228h1v1h-1zM354 228h1v1h-1zM366 228h4v1h-4zM429 228h1v1h-1zM466 228h4v1h-4zM482 228h14v1h-14zM501 228h3v1h-3zM527 228h2v1h-2zM597 228h3v1h-3zM647 228h1v1h-1zM691 228h2v1h-2zM217 229h1v1h-1zM234 229h2v1h-2zM353 229h1v1h-1zM370 229h3v1h-3zM429 229h1v1h-1zM504 229h2v1h-2zM525 229h2v1h-2zM600 229h2v1h-2zM646 229h1v1h-1zM693 229h3v1h-3zM218 230h1v1h-1zM232 230h2v1h-2zM236 230h1v1h-1zM352 230h1v1h-1zM373 230h2v1h-2zM428 230h1v1h-1zM506 230h6v1h-6zM520 230h5v1h-5zM602 230h3v1h-3zM645 230h1v1h-1zM696 230h2v1h-2zM219 231h5v1h-5zM229 231h3v1h-3zM237 231h1v1h-1zM351 231h1v1h-1zM375 231h2v1h-2zM426 231h2v1h-2zM512 231h8v1h-8zM605 231h3v1h-3zM618 231h6v1h-6zM644 231h1v1h-1zM698 231h6v1h-6zM224 232h5v1h-5zM238 232h2v1h-2zM351 232h1v1h-1zM377 232h2v1h-2zM384 232h5v1h-5zM411 232h3v1h-3zM424 232h2v1h-2zM608 232h2v1h-2zM614 232h4v1h-4zM624 232h8v1h-8zM640 232h4v1h-4zM704 232h4v1h-4zM240 233h1v1h-1zM306 233h35v1h-35zM350 233h1v1h-1zM379 233h5v1h-5zM389 233h3v1h-3zM409 233h2v1h-2zM414 233h4v1h-4zM421 233h3v1h-3zM610 233h4v1h-4zM632 233h8v1h-8zM241 234h1v1h-1zM302 234h4v1h-4zM341 234h3v1h-3zM349 234h1v1h-1zM392 234h2v1h-2zM408 234h1v1h-1zM418 234h3v1h-3zM242 235h1v1h-1zM256 235h13v1h-13zM298 235h4v1h-4zM344 235h2v1h-2zM348 235h1v1h-1zM394 235h4v1h-4zM406 235h2v1h-2zM243 236h13v1h-13zM269 236h3v1h-3zM294 236h4v1h-4zM346 236h2v1h-2zM398 236h4v1h-4zM404 236h2v1h-2zM272 237h2v1h-2zM290 237h4v1h-4zM402 237h2v1h-2zM274 238h6v1h-6zM286 238h4v1h-4zM280 239h6v1h-6z" fill="#ff0000"/>
<rect x="3" y="277" width="1" height="19" fill="#000080"/>
<rect x="11" y="275" width="1" height="21" fill="#000080"/>
<rect x="19" y="273" width="1" height="23" fill="#000080"/>
<rect x="27" y="270" width="1" height="26" fill="#000080"/>
<rect x="35" y="269" width="1" height="27" fill="#000080"/>
<rect x="43" y="268" width="1" height="28" fill="#000080"/>
<rect x="51" y="267" width="1" height="29" fill="#000080"/>
<rect x="59" y="267" width="1" height="29" fill="#000080"/>
<rect x="67" y="267" width="1" height="29" fill="#000080"/>
<rect x="75" y="267" width="1" height="29" fill="#000080"/>
<rect x="83" y="266" width="1" height="30" fill="#000080"/>
<rect x="91" y="267" width="1" height="29" fill="#000080"/>
<rect x="99" y="268" width="1" height="28" fill="#000080"/>
<rect x="107" y="268" width="1" height="28" fill="#000080"/>
<rect x="115" y="269" width="1" height="27" fill="#000080"/>
<rect x="123" y="270" width="1" height="26" fill="#000080"/>
<rect x="131" y="270" width="1" height="26" fill="#000080"/>
<rect x="139" y="271" width="1" height="25" fill="#000080"/>
<rect x="147" y="272" width="1" height="24" fill="#000080"/>
<rect x="155" y="270" width="1" height="26" fill="#000080"/>
<rect x="163" y="272" width="1" height="24" fill="#000080"/>
<rect x="171" y="274" width="1" height="22" fill="#000080"/>
<rect x="179" y="276" width="1" height="20" fill="#000080"/>
<rect x="187" y="279" width="1" height="17" fill="#000080"/>
<rect x="195" y="278" width="1" height="18" fill="#000080"/>
<rect x="203" y="280" width="1" height="16" fill="#000080"/>
<rect x="211" y="282" width="1" height="14" fill="#000080"/>
<rect x="219" y="287" width="1" height="9" fill="#000080"/>
<rect x="227" y="293" width="1" height="3" fill="#000080"/>
<rect x="243" y="295" width="1" height="8" fill="#000080"/>
<rect x="251" y="295" width="1" height="13" fill="#000080"/>
<rect x="259" y="295" width="1" height="17" fill="#000080"/>
<rect x="267" y="295" width="1" height="20" fill="#000080"/>
<rect x="275" y="295" width="1" height="25" fill="#000080"/>
<rect x="283" y="295" width="1" height="28" fill="#000080"/>
<rect x="291" y="295" width="1" height="30" fill="#000080"/>
<rect x="299" y="295" width="1" height="31" fill="#000080"/>
<rect x="307" y="295" width="1" height="30" fill="#000080"/>
<rect x="315" y="295" width="1" height="29" fill="#000080"/>
<rect x="323" y="295" width="1" height="28" fill="#000080"/>
<rect x="331" y="295" width="1" height="27" fill="#000080"/>
<rect x="339" y="295" width="1" height="25" fill="#000080"/>
<rect x="347" y="295" width="1" height="26" fill="#000080"/>
<rect x="355" y="295" width="1" height="23" fill="#000080"/>
<rect x="363" y="295" width="1" height="22" fill="#000080"/>
<rect x="371" y="295" width="1" height="20" fill="#000080"/>
<rect x="379" y="295" width="1" height="20" fill="#000080"/>
<rect x="387" y="295" width="1" height="20" fill="#000080"/>
<rect x="395" y="295" width="1" height="22" fill="#000080"/>
<rect x="403" y="295" width="1" height="24" fill="#000080"/>
<rect x="411" y="295" width="1" height="24" fill="#000080"/>
<rect x="419" y="295" width="1" height="25" fill="#000080"/>
<rect x="427" y="295" width="1" height="25" fill="#000080"/>
<rect x="435" y="295" width="1" height="18" fill="#000080"/>
<rect x="443" y="295" width="1" height="12" fill="#000080"/>
<rect x="451" y="295" width="1" height="9" fill="#000080"/>
<rect x="459" y="295" width="1" height="8" fill="#000080"/>
<rect x="467" y="295" width="1" height="9" fill="#000080"/>
<rect x="475" y="295" width="1" height="8" fill="#000080"/>
<rect x="483" y="295" width="1" height="10" fill="#000080"/>
<rect x="491" y="295" width="1" height="10" fill="#000080"/>
<rect x="499" y="295" width="1" height="10" fill="#000080"/>
<rect x="507" y="295" width="1" height="12" fill="#000080"/>
<rect x="515" y="295" width="1" height="12" fill="#000080"/>
<rect x="523" y="295" width="1" height="14" fill="#000080"/>
<rect x="531" y="295" width="1" height="12" fill="#000080"/>
<rect x="539" y="295" width="1" height="10" fill="#000080"/>
<rect x="547" y="295" width="1" height="6" fill="#000080"/>
<rect x="555" y="295" width="1" height="6" fill="#000080"/>
<rect x="563" y="295" width="1" height="5" fill="#000080"/>
<rect x="571" y="295" width="1" height="6" fill="#000080"/>
<rect x="579" y="295" width="1" height="5" fill="#000080"/>
<rect x="587" y="295" width="1" height="6" fill="#000080"/>
<rect x="595" y="295" width="1" height="6" fill="#000080"/>
<rect x="603" y="295" width="1" height="8" fill="#000080"/>
<rect x="611" y="295" width="1" height="12" fill="#000080"/>
<rect x="619" y="295" width="1" height="14" fill="#000080"/>
<rect x="627" y="295" width="1" height="16" fill="#000080"/>
<rect x="635" y="295" width="1" height="18" fill="#000080"/>
<rect x="643" y="295" width="1" height="18" fill="#000080"/>
<rect x="651" y="295" width="1" height="15" fill="#000080"/>
<rect x="659" y="295" width="1" height="12" fill="#000080"/>
<rect x="667" y="295" width="1" height="10" fill="#000080"/>
<rect x="675" y="295" width="1" height="8" fill="#000080"/>
<rect x="683" y="295" width="1" height="7" fill="#000080"/>
<rect x="691" y="295" width="1" height="8" fill="#000080"/>
<rect x="699" y="295" width="1" height="10" fill="#000080"/>
<rect x="707" y="295" width="1" height="12" fill="#000080"/>
<path d="M82 266h2v1h-2zM87 266h3v1h-3zM93 266h3v1h-3zM99 266h3v1h-3zM105 266h1v1h-1zM81 267h1v1h-1zM106 267h2v1h-2zM111 267h3v1h-3zM117 267h3v1h-3zM123 267h3v1h-3zM129 267h3v1h-3zM135 267h1v1h-1zM75 268h3v1h-3zM136 268h2v1h-2zM141 268h3v1h-3zM64 269h2v1h-2zM69 269h3v1h-3zM147 269h3v1h-3zM153 269h3v1h-3zM58 270h2v1h-2zM63 270h1v1h-1zM159 270h3v1h-3zM165 270h1v1h-1zM57 271h1v1h-1zM166 271h2v1h-2zM171 271h2v1h-2zM51 272h3v1h-3zM173 272h1v1h-1zM177 272h1v1h-1zM178 273h2v1h-2zM183 273h3v1h-3zM189 273h3v1h-3zM195 273h3v1h-3zM201 273h2v1h-2zM45 274h3v1h-3zM203 274h1v1h-1zM207 274h1v1h-1zM208 275h2v1h-2zM40 276h2v1h-2zM213 276h3v1h-3zM39 277h1v1h-1zM219 277h3v1h-3zM34 278h2v1h-2zM225 278h3v1h-3zM33 279h1v1h-1zM231 279h1v1h-1zM29 280h1v1h-1zM232 280h2v1h-2zM27 281h2v1h-2zM237 282h2v1h-2zM23 283h1v1h-1zM239 283h1v1h-1zM21 284h2v1h-2zM243 284h1v1h-1zM244 285h2v1h-2zM16 286h2v1h-2zM15 287h1v1h-1zM249 287h3v1h-3zM10 288h2v1h-2zM9 289h1v1h-1zM255 289h1v1h-1zM5 290h1v1h-1zM256 290h2v1h-2zM3 291h2v1h-2zM261 293h2v1h-2zM263 294h1v1h-1zM267 296h1v1h-1zM268 297h2v1h-2zM273 299h1v1h-1zM274 300h2v1h-2zM593 301h1v1h-1zM597 301h3v1h-3zM603 301h3v1h-3zM609 301h3v1h-3zM615 301h1v1h-1zM279 302h1v1h-1zM591 302h2v1h-2zM616 302h2v1h-2zM621 302h3v1h-3zM280 303h2v1h-2zM501 303h3v1h-3zM507 303h3v1h-3zM513 303h3v1h-3zM555 303h3v1h-3zM561 303h3v1h-3zM567 303h3v1h-3zM573 303h3v1h-3zM579 303h3v1h-3zM585 303h3v1h-3zM627 303h3v1h-3zM496 304h2v1h-2zM519 304h3v1h-3zM525 304h3v1h-3zM633 304h3v1h-3zM285 305h1v1h-1zM495 305h1v1h-1zM531 305h3v1h-3zM537 305h3v1h-3zM543 305h3v1h-3zM549 305h3v1h-3zM639 305h3v1h-3zM705 305h3v1h-3zM286 306h2v1h-2zM489 306h3v1h-3zM645 306h3v1h-3zM699 306h3v1h-3zM483 307h3v1h-3zM651 307h3v1h-3zM657 307h3v1h-3zM663 307h3v1h-3zM669 307h1v1h-1zM687 307h3v1h-3zM693 307h3v1h-3zM291 308h1v1h-1zM478 308h2v1h-2zM670 308h2v1h-2zM675 308h3v1h-3zM681 308h3v1h-3zM292 309h2v1h-2zM473 309h1v1h-1zM477 309h1v1h-1zM467 310h1v1h-1zM471 310h2v1h-2zM297 311h1v1h-1zM465 311h2v1h-2zM298 312h2v1h-2zM459 312h3v1h-3zM453 313h3v1h-3zM303 314h1v1h-1zM447 314h3v1h-3zM304 315h2v1h-2zM436 315h2v1h-2zM441 315h3v1h-3zM423 316h3v1h-3zM429 316h3v1h-3zM435 316h1v1h-1zM309 317h3v1h-3zM387 317h3v1h-3zM393 317h3v1h-3zM399 317h3v1h-3zM405 317h3v1h-3zM411 317h3v1h-3zM417 317h3v1h-3zM315 318h3v1h-3zM376 318h2v1h-2zM381 318h3v1h-3zM321 319h2v1h-2zM369 319h3v1h-3zM375 319h1v1h-1zM323 320h1v1h-1zM327 320h1v1h-1zM363 320h3v1h-3zM328 321h2v1h-2zM333 321h3v1h-3zM357 321h3v1h-3zM339 322h3v1h-3zM345 322h3v1h-3zM351 322h3v1h-3z" fill="#ff0000"/>
<path d="M26 334h4v1h-4zM24 335h2v1h-2zM30 335h4v1h-4zM21 336h3v1h-3zM34 336h6v1h-6zM19 337h2v1h-2zM40 337h8v1h-8zM120 337h16v1h-16zM17 338h2v1h-2zM48 338h8v1h-8zM72 338h16v1h-16zM114 338h6v1h-6zM136 338h4v1h-4zM15 339h2v1h-2zM56 339h16v1h-16zM88 339h8v1h-8zM110 339h4v1h-4zM140 339h1v1h-1zM13 340h2v1h-2zM96 340h14v1h-14zM141 340h1v1h-1zM3 341h10v1h-10zM142 341h1v1h-1zM143 342h1v1h-1zM144 343h1v1h-1zM145 344h1v1h-1zM146 345h1v1h-1zM152 345h4v1h-4zM147 346h5v1h-5zM156 346h2v1h-2zM158 347h2v1h-2zM160 348h1v1h-1zM161 349h2v1h-2zM163 350h5v1h-5zM168 351h6v1h-6zM192 351h4v1h-4zM174 352h4v1h-4zM184 352h8v1h-8zM196 352h2v1h-2zM178 353h6v1h-6zM198 353h1v1h-1zM199 354h1v1h-1zM200 355h2v1h-2zM202 356h1v1h-1zM208 356h4v1h-4zM203 357h5v1h-5zM212 357h1v1h-1zM213 358h1v1h-1zM214 359h2v1h-2zM216 360h1v1h-1zM217 361h1v1h-1zM218 362h1v1h-1zM232 362h4v1h-4zM219 363h13v1h-13zM236 363h1v1h-1zM237 364h1v1h-1zM238 365h1v1h-1zM239 366h1v1h-1zM239 367h1v1h-1zM240 368h1v1h-1zM241 369h1v1h-1zM242 370h1v1h-1zM243 371h3v1h-3zM246 372h2v1h-2z" fill="#000080"/>
<path d="M443 349h5v1h-5zM442 350h1v1h-1zM448 350h5v1h-5zM579 350h1v1h-1zM440 351h2v1h-2zM453 351h3v1h-3zM577 351h2v1h-2zM580 351h2v1h-2zM439 352h1v1h-1zM456 352h2v1h-2zM576 352h1v1h-1zM582 352h1v1h-1zM438 353h1v1h-1zM458 353h3v1h-3zM574 353h2v1h-2zM583 353h1v1h-1zM594 353h2v1h-2zM436 354h2v1h-2zM461 354h2v1h-2zM572 354h2v1h-2zM584 354h2v1h-2zM592 354h2v1h-2zM596 354h1v1h-1zM435 355h1v1h-1zM463 355h2v1h-2zM547 355h5v1h-5zM560 355h12v1h-12zM586 355h1v1h-1zM589 355h3v1h-3zM597 355h1v1h-1zM682 355h3v1h-3zM434 356h1v1h-1zM465 356h2v1h-2zM545 356h2v1h-2zM552 356h8v1h-8zM587 356h2v1h-2zM598 356h2v1h-2zM680 356h2v1h-2zM685 356h3v1h-3zM433 357h1v1h-1zM467 357h10v1h-10zM543 357h2v1h-2zM600 357h1v1h-1zM658 357h6v1h-6zM677 357h3v1h-3zM688 357h2v1h-2zM432 358h1v1h-1zM477 358h2v1h-2zM541 358h2v1h-2zM601 358h1v1h-1zM656 358h2v1h-2zM664 358h13v1h-13zM690 358h3v1h-3zM431 359h1v1h-1zM479 359h2v1h-2zM538 359h3v1h-3zM602 359h1v1h-1zM653 359h3v1h-3zM693 359h2v1h-2zM431 360h1v1h-1zM481 360h2v1h-2zM496 360h5v1h-5zM523 360h5v1h-5zM534 360h4v1h-4zM603 360h1v1h-1zM651 360h2v1h-2zM695 360h2v1h-2zM430 361h1v1h-1zM483 361h13v1h-13zM501 361h3v1h-3zM521 361h2v1h-2zM528 361h6v1h-6zM604 361h1v1h-1zM649 361h2v1h-2zM697 361h2v1h-2zM429 362h1v1h-1zM504 362h2v1h-2zM519 362h2v1h-2zM604 362h1v1h-1zM648 362h1v1h-1zM699 362h1v1h-1zM428 363h1v1h-1zM506 363h6v1h-6zM517 363h2v1h-2zM605 363h1v1h-1zM646 363h2v1h-2zM700 363h2v1h-2zM426 364h2v1h-2zM512 364h5v1h-5zM606 364h1v1h-1zM644 364h2v1h-2zM702 364h2v1h-2zM422 365h4v1h-4zM606 365h1v1h-1zM643 365h1v1h-1zM704 365h1v1h-1zM419 366h3v1h-3zM607 366h1v1h-1zM641 366h2v1h-2zM705 366h2v1h-2zM418 367h1v1h-1zM608 367h1v1h-1zM639 367h2v1h-2zM707 367h1v1h-1zM416 368h2v1h-2zM608 368h1v1h-1zM637 368h2v1h-2zM415 369h1v1h-1zM609 369h1v1h-1zM632 369h5v1h-5zM414 370h1v1h-1zM610 370h1v1h-1zM627 370h5v1h-5zM395 371h3v1h-3zM412 371h2v1h-2zM610 371h1v1h-1zM625 371h2v1h-2zM266 372h2v1h-2zM355 372h10v1h-10zM393 372h2v1h-2zM398 372h4v1h-4zM408 372h4v1h-4zM611 372h3v1h-3zM623 372h2v1h-2zM264 373h2v1h-2zM268 373h2v1h-2zM353 373h2v1h-2zM365 373h2v1h-2zM392 373h1v1h-1zM402 373h6v1h-6zM614 373h4v1h-4zM621 373h2v1h-2zM253 374h4v1h-4zM261 374h3v1h-3zM270 374h2v1h-2zM351 374h2v1h-2zM367 374h2v1h-2zM390 374h2v1h-2zM618 374h3v1h-3zM257 375h4v1h-4zM272 375h1v1h-1zM288 375h8v1h-8zM312 375h13v1h-13zM339 375h5v1h-5zM349 375h2v1h-2zM369 375h2v1h-2zM388 375h2v1h-2zM273 376h2v1h-2zM280 376h8v1h-8zM296 376h16v1h-16zM325 376h2v1h-2zM337 376h2v1h-2zM344 376h5v1h-5zM371 376h3v1h-3zM386 376h2v1h-2zM275 377h5v1h-5zM327 377h2v1h-2zM335 377h2v1h-2zM374 377h4v1h-4zM382 377h4v1h-4zM329 378h2v1h-2zM333 378h2v1h-2zM378 378h4v1h-4zM331 379h2v1h-2z" fill="#000080"/>
<rect x="2" y="2" width="759" height="1" fill="#000"/><rect x="2" y="188" width="759" height="1" fill="#000"/><rect x="2" y="2" width="1" height="187" fill="#000"/><rect x="760" y="2" width="1" height="187" fill="#000"/>
<rect x="2" y="190" width="759" height="1" fill="#000"/><rect x="2" y="258" width="759" height="1" fill="#000"/><rect x="2" y="190" width="1" height="69" fill="#000"/><rect x="760" y="190" width="1" height="69" fill="#000"/>
<rect x="2" y="260" width="759" height="1" fill="#000"/><rect x="2" y="328" width="759" height="1" fill="#000"/><rect x="2" y="260" width="1" height="69" fill="#000"/><rect x="760" y="260" width="1" height="69" fill="#000"/>
<rect x="2" y="330" width="759" height="1" fill="#000"/><rect x="2" y="382" width="759" height="1" fill="#000"/><rect x="2" y="330" width="1" height="53" fill="#000"/><rect x="760" y="330" width="1" height="53" fill="#000"/>
<rect x="761" y="7" width="2" height="1" fill="#000"/>
<rect x="761" y="42" width="2" height="1" fill="#000"/>
<rect x="761" y="78" width="2" height="1" fill="#000"/>
<rect x="761" y="113" width="2" height="1" fill="#000"/>
<rect x="761" y="149" width="2" height="1" fill="#000"/>
<rect x="761" y="184" width="2" height="1" fill="#000"/>
<rect x="761" y="192" width="1" height="1" fill="#000"/>
<rect x="761" y="257" width="1" height="1" fill="#000"/>
<rect x="761" y="262" width="1" height="1" fill="#000"/>
<rect x="761" y="295" width="1" height="1" fill="#000"/>
<rect x="761" y="327" width="1" height="1" fill="#000"/>
<rect x="761" y="332" width="1" height="1" fill="#000"/>
<rect x="3" y="383" width="1" height="3" fill="#000"/>
<rect x="67" y="383" width="1" height="3" fill="#000"/>
<rect x="131" y="383" width="1" height="3" fill="#000"/>
<rect x="195" y="383" width="1" height="3" fill="#000"/>
<rect x="259" y="383" width="1" height="3" fill="#000"/>
<rect x="323" y="383" width="1" height="3" fill="#000"/>
<rect x="387" y="383" width="1" height="3" fill="#000"/>
<rect x="451" y="383" width="1" height="3" fill="#000"/>
<rect x="515" y="383" width="1" height="3" fill="#000"/>
<rect x="579" y="383" width="1" height="3" fill="#000"/>
<rect x="643" y="383" width="1" height="3" fill="#000"/>
<rect x="707" y="383" width="1" height="3" fill="#000"/>
<rect x="762" y="160" width="36" height="11" fill="#000"/>
<path d="M6 9h7v1h-7zM7 10h5v1h-5zM8 11h3v1h-3zM9 12h1v1h-1z" fill="#000"/>
</svg>
<svg width="800" height="400" viewBox="0 0 800 400" style="position:absolute;left:0;top:0;font-family:'Liberation Sans',sans-serif;font-size:10px" text-rendering="geometricPrecision"><text x="18.6" y="14" fill="#000" stroke="#000" stroke-width="0.25" font-weight="normal" textLength="50" lengthAdjust="spacingAndGlyphs">USDJPY,H1</text><text x="75.4" y="14" fill="#000" stroke="#000" stroke-width="0.25" font-weight="normal" textLength="27" lengthAdjust="spacingAndGlyphs">100.43</text><text x="106.4" y="14" fill="#000" stroke="#000" stroke-width="0.25" font-weight="normal" textLength="27" lengthAdjust="spacingAndGlyphs">100.61</text><text x="137.4" y="14" fill="#000" stroke="#000" stroke-width="0.25" font-weight="normal" textLength="27" lengthAdjust="spacingAndGlyphs">100.31</text><text x="168.6" y="14" fill="#000" stroke="#000" stroke-width="0.25" font-weight="normal" textLength="26.6" lengthAdjust="spacingAndGlyphs">100.40</text><text x="766.3" y="9.8" fill="#000" stroke="#000" stroke-width="0.25" font-weight="normal" textLength="27.3" lengthAdjust="spacingAndGlyphs">102.65</text><text x="766.3" y="44.8" fill="#000" stroke="#000" stroke-width="0.25" font-weight="normal" textLength="27.3" lengthAdjust="spacingAndGlyphs">102.15</text><text x="766.3" y="80.8" fill="#000" stroke="#000" stroke-width="0.25" font-weight="normal" textLength="27.3" lengthAdjust="spacingAndGlyphs">101.65</text><text x="766.3" y="115.8" fill="#000" stroke="#000" stroke-width="0.25" font-weight="normal" textLength="27.3" lengthAdjust="spacingAndGlyphs">101.15</text><text x="766.3" y="151.8" fill="#000" stroke="#000" stroke-width="0.25" font-weight="normal" textLength="27.3" lengthAdjust="spacingAndGlyphs">100.65</text><text x="766.3" y="186.8" fill="#000" stroke="#000" stroke-width="0.25" font-weight="normal" textLength="27.3" lengthAdjust="spacingAndGlyphs">100.15</text><text x="766" y="169.5" fill="#fff" stroke="#fff" stroke-width="0.25" font-weight="normal" textLength="27.5" lengthAdjust="spacingAndGlyphs">100.40</text><text x="764.5" y="201" fill="#000" stroke="#000" stroke-width="0.25" font-weight="normal" textLength="14.3" lengthAdjust="spacingAndGlyphs">100</text><text x="763.9" y="214" fill="#000" stroke="#000" stroke-width="0.25" font-weight="normal" textLength="9.2" lengthAdjust="spacingAndGlyphs">70</text><text x="763.9" y="241" fill="#000" stroke="#000" stroke-width="0.25" font-weight="normal" textLength="9.2" lengthAdjust="spacingAndGlyphs">30</text><text x="764.3" y="255" fill="#000" stroke="#000" stroke-width="0.25" font-weight="normal" textLength="4.8" lengthAdjust="spacingAndGlyphs">0</text><text x="764.3" y="271" fill="#000" stroke="#000" stroke-width="0.25" font-weight="normal" textLength="22" lengthAdjust="spacingAndGlyphs">0.303</text><text x="763.9" y="298" fill="#000" stroke="#000" stroke-width="0.25" font-weight="normal" textLength="18" lengthAdjust="spacingAndGlyphs">0.00</text><text x="763.9" y="298" fill="#000" stroke="#000" stroke-width="0.25" font-weight="bold" textLength="5" lengthAdjust="spacingAndGlyphs">0</text><text x="764.5" y="325" fill="#000" stroke="#000" stroke-width="0.25" font-weight="normal" textLength="15.3" lengthAdjust="spacingAndGlyphs">-0.3</text><text x="764.5" y="341" fill="#000" stroke="#000" stroke-width="0.25" font-weight="normal" textLength="37.2" lengthAdjust="spacingAndGlyphs">101.5468</text><text x="764.2" y="360" fill="#000" stroke="#000" stroke-width="0.25" font-weight="normal" textLength="14.2" lengthAdjust="spacingAndGlyphs">100</text><text x="764.5" y="379" fill="#000" stroke="#000" stroke-width="0.25" font-weight="normal" textLength="32.4" lengthAdjust="spacingAndGlyphs">98.5058</text><text x="7" y="203" fill="#000" stroke="#000" stroke-width="0.25" font-weight="normal" textLength="68" lengthAdjust="spacingAndGlyphs">RSI(14) 39.0620</text><text x="7.5" y="273" fill="#000" stroke="#000" stroke-width="0.25" font-weight="normal" textLength="123.5" lengthAdjust="spacingAndGlyphs">MACD(12,26,9) -0.103 -0.094</text><text x="7.5" y="343" fill="#000" stroke="#000" stroke-width="0.25" font-weight="normal" textLength="98" lengthAdjust="spacingAndGlyphs">Momentum(22) 99.3863</text><text x="2.3" y="395" fill="#000" stroke="#000" stroke-width="0.25" font-weight="normal" textLength="54.25" lengthAdjust="spacingAndGlyphs">28 May 2013</text><text x="66.3" y="395" fill="#000" stroke="#000" stroke-width="0.25" font-weight="normal" textLength="57.5" lengthAdjust="spacingAndGlyphs">28 May 15:00</text><text x="130.3" y="395" fill="#000" stroke="#000" stroke-width="0.25" font-weight="normal" textLength="57.5" lengthAdjust="spacingAndGlyphs">28 May 23:00</text><text x="194.3" y="395" fill="#000" stroke="#000" stroke-width="0.25" font-weight="normal" textLength="57.5" lengthAdjust="spacingAndGlyphs">29 May 07:00</text><text x="258.3" y="395" fill="#000" stroke="#000" stroke-width="0.25" font-weight="normal" textLength="57.5" lengthAdjust="spacingAndGlyphs">29 May 15:00</text><text x="322.3" y="395" fill="#000" stroke="#000" stroke-width="0.25" font-weight="normal" textLength="57.5" lengthAdjust="spacingAndGlyphs">29 May 23:00</text><text x="386.3" y="395" fill="#000" stroke="#000" stroke-width="0.25" font-weight="normal" textLength="57.5" lengthAdjust="spacingAndGlyphs">30 May 07:00</text><text x="450.3" y="395" fill="#000" stroke="#000" stroke-width="0.25" font-weight="normal" textLength="57.5" lengthAdjust="spacingAndGlyphs">30 May 15:00</text><text x="514.3" y="395" fill="#000" stroke="#000" stroke-width="0.25" font-weight="normal" textLength="57.5" lengthAdjust="spacingAndGlyphs">30 May 23:00</text><text x="578.3" y="395" fill="#000" stroke="#000" stroke-width="0.25" font-weight="normal" textLength="57.5" lengthAdjust="spacingAndGlyphs">31 May 07:00</text><text x="642.3" y="395" fill="#000" stroke="#000" stroke-width="0.25" font-weight="normal" textLength="57.5" lengthAdjust="spacingAndGlyphs">31 May 15:00</text><text x="706.3" y="395" fill="#000" stroke="#000" stroke-width="0.25" font-weight="normal" textLength="57.5" lengthAdjust="spacingAndGlyphs">31 May 23:00</text></svg></body></html>
